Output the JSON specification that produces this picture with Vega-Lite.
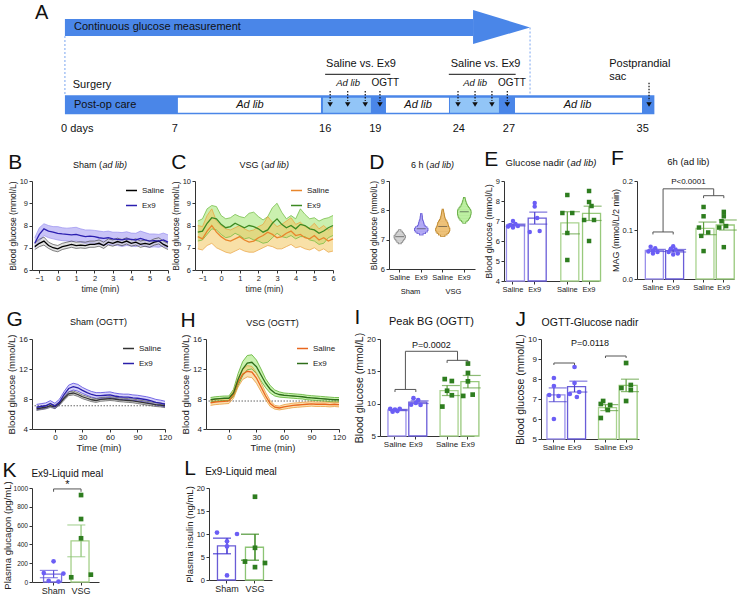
{
"$schema": "https://vega.github.io/schema/vega-lite/v6.json",
"background": "white",
"padding": {"left": 2, "top": 2, "right": 2, "bottom": 2},
"config": {
  "view": {"stroke": null},
  "font": "Liberation Sans",
  "axis": {"grid": false, "domainColor": "#333", "tickColor": "#333", "labelColor": "#222", "titleColor": "#222", "labelFont": "Liberation Sans", "titleFont": "Liberation Sans", "labelFontSize": 8, "titleFontSize": 9, "titleFontWeight": "normal", "tickSize": 3, "labelPadding": 1.5, "titlePadding": 2, "domainWidth": 1, "tickWidth": 1, "labelOverlap": false, "labelFlush": false},
  "title": {"font": "Liberation Sans", "fontWeight": "normal", "fontSize": 21, "anchor": "start", "frame": "bounds", "offset": -12, "color": "#111"},
  "legend": {"labelFont": "Liberation Sans", "labelFontSize": 8, "labelColor": "#222"},
  "text": {"font": "Liberation Sans", "color": "#111"}
},
"spacing": 12,
"resolve": {"scale": {"color": "independent", "stroke": "independent", "fill": "independent", "shape": "independent", "size": "independent", "xOffset": "independent"}, "legend": {"color": "independent", "stroke": "independent", "fill": "independent", "shape": "independent", "size": "independent"}},
"vconcat": [
{
 "width": 727, "height": 130,
 "layer": [
  {"data": {"values": [{"d1": 0.43, "d2": 24.85, "v1": 9.7, "v2": 11.4}]},
   "mark": {"type": "rect", "color": "#4a86e8"},
   "encoding": {"x": {"field": "d1", "type": "quantitative", "scale": {"domain": [-1.54, 41.96], "nice": false, "zero": false}, "axis": null}, "x2": {"field": "d2"}, "y": {"field": "v1", "type": "quantitative", "scale": {"domain": [0, 13], "nice": false, "zero": false}, "axis": null}, "y2": {"field": "v2"}}},
  {"data": {"values": [{"d": 24.85, "v1": 8.9, "v2": 12.3}, {"d": 28.26, "v1": 10.55, "v2": 10.55}]},
   "mark": {"type": "area", "color": "#4a86e8"},
   "encoding": {"x": {"field": "d", "type": "quantitative"}, "y": {"field": "v1", "type": "quantitative"}, "y2": {"field": "v2"}}},
  {"data": {"values": [{"d": 0.43, "v1": 9.7, "v2": 3.8}, {"d": 28.26, "v1": 10.55, "v2": 3.8}]},
   "mark": {"type": "rule", "color": "#7aa6f0", "strokeDash": [2, 2], "strokeWidth": 1},
   "encoding": {"x": {"field": "d", "type": "quantitative"}, "y": {"field": "v1", "type": "quantitative"}, "y2": {"field": "v2"}}},
  {"data": {"values": [{"d1": 0.43, "d2": 35.7, "v1": 1.87, "v2": 3.77}]},
   "mark": {"type": "rect", "color": "#4a86e8"},
   "encoding": {"x": {"field": "d1", "type": "quantitative"}, "x2": {"field": "d2"}, "y": {"field": "v1", "type": "quantitative"}, "y2": {"field": "v2"}}},
  {"data": {"values": [{"d1": 7.19, "d2": 15.75, "v1": 2.03, "v2": 3.53}, {"d1": 19.64, "d2": 23.41, "v1": 2.03, "v2": 3.53}, {"d1": 27.36, "d2": 34.96, "v1": 2.03, "v2": 3.53}]},
   "mark": {"type": "rect", "color": "#ffffff"},
   "encoding": {"x": {"field": "d1", "type": "quantitative"}, "x2": {"field": "d2"}, "y": {"field": "v1", "type": "quantitative"}, "y2": {"field": "v2"}}},
  {"data": {"values": [{"d1": 15.87, "d2": 18.74, "v1": 2.03, "v2": 3.53}, {"d1": 23.47, "d2": 26.4, "v1": 2.03, "v2": 3.53}]},
   "mark": {"type": "rect", "color": "#92c5f7"},
   "encoding": {"x": {"field": "d1", "type": "quantitative"}, "x2": {"field": "d2"}, "y": {"field": "v1", "type": "quantitative"}, "y2": {"field": "v2"}}},
  {"data": {"values": [{"d": 16.3, "v1": 4.2, "v2": 3.2}, {"d": 17.35, "v1": 4.2, "v2": 3.2}, {"d": 18.4, "v1": 4.2, "v2": 3.2}, {"d": 19.28, "v1": 4.2, "v2": 3.2}, {"d": 23.95, "v1": 4.2, "v2": 3.2}, {"d": 24.97, "v1": 4.2, "v2": 3.2}, {"d": 25.98, "v1": 4.2, "v2": 3.2}, {"d": 26.9, "v1": 4.2, "v2": 3.2}, {"d": 35.38, "v1": 5.03, "v2": 3.2}]},
   "mark": {"type": "rule", "color": "#111", "strokeDash": [1.5, 1.5], "strokeWidth": 1.2},
   "encoding": {"x": {"field": "d", "type": "quantitative"}, "y": {"field": "v1", "type": "quantitative"}, "y2": {"field": "v2"}}},
  {"data": {"values": [{"d": 16.3}, {"d": 17.35}, {"d": 18.4}, {"d": 19.28}, {"d": 23.95}, {"d": 24.97}, {"d": 25.98}, {"d": 26.9}, {"d": 35.38}]},
   "mark": {"type": "point", "shape": "triangle-down", "filled": true, "color": "#111", "size": 30, "opacity": 1},
   "encoding": {"x": {"field": "d", "type": "quantitative"}, "y": {"datum": 2.85}}},
  {"data": {"values": [{"d1": 16.0, "d2": 19.9, "v": 5.87}, {"d1": 23.4, "d2": 27.4, "v": 5.87}]},
   "mark": {"type": "rule", "color": "#111", "strokeWidth": 1},
   "encoding": {"x": {"field": "d1", "type": "quantitative"}, "x2": {"field": "d2"}, "y": {"field": "v", "type": "quantitative"}}},
  {"data": {"values": [{"d": -1.36, "v": 12.0, "t": "A"}]},
   "mark": {"type": "text", "align": "left", "baseline": "middle", "fontSize": 20},
   "encoding": {"x": {"field": "d", "type": "quantitative"}, "y": {"field": "v", "type": "quantitative"}, "text": {"field": "t"}}},
  {"data": {"values": [{"d": 0.97, "v": 10.6, "t": "Continuous glucose measurement"}, {"d": 0.9, "v": 4.8, "t": "Surgery"}, {"d": 0.97, "v": 2.8, "t": "Post-op care"}, {"d": 33.0, "v": 6.93, "t": "Postprandial"}, {"d": 33.0, "v": 5.6, "t": "sac"}, {"d": 0.2, "v": 0.37, "t": "0 days"}]},
   "mark": {"type": "text", "align": "left", "baseline": "middle", "fontSize": 11},
   "encoding": {"x": {"field": "d", "type": "quantitative"}, "y": {"field": "v", "type": "quantitative"}, "text": {"field": "t"}}},
  {"data": {"values": [{"d": 18.14, "v": 6.93, "t": "Saline vs. Ex9"}, {"d": 25.6, "v": 6.93, "t": "Saline vs. Ex9"}, {"d": 7, "v": 0.37, "t": "7"}, {"d": 16, "v": 0.37, "t": "16"}, {"d": 19, "v": 0.37, "t": "19"}, {"d": 24, "v": 0.37, "t": "24"}, {"d": 27, "v": 0.37, "t": "27"}, {"d": 35, "v": 0.37, "t": "35"}]},
   "mark": {"type": "text", "align": "center", "baseline": "middle", "fontSize": 11},
   "encoding": {"x": {"field": "d", "type": "quantitative"}, "y": {"field": "v", "type": "quantitative"}, "text": {"field": "t"}}},
  {"data": {"values": [{"d": 19.6, "v": 5.03, "t": "OGTT"}, {"d": 27.18, "v": 5.03, "t": "OGTT"}]},
   "mark": {"type": "text", "align": "center", "baseline": "middle", "fontSize": 10},
   "encoding": {"x": {"field": "d", "type": "quantitative"}, "y": {"field": "v", "type": "quantitative"}, "text": {"field": "t"}}},
  {"data": {"values": [{"d": 17.37, "v": 5.03, "t": "Ad lib"}, {"d": 24.97, "v": 5.03, "t": "Ad lib"}]},
   "mark": {"type": "text", "align": "center", "baseline": "middle", "fontSize": 9.5, "fontStyle": "italic"},
   "encoding": {"x": {"field": "d", "type": "quantitative"}, "y": {"field": "v", "type": "quantitative"}, "text": {"field": "t"}}},
  {"data": {"values": [{"d": 11.5, "v": 2.8, "t": "Ad lib"}, {"d": 21.56, "v": 2.8, "t": "Ad lib"}, {"d": 31.1, "v": 2.8, "t": "Ad lib"}]},
   "mark": {"type": "text", "align": "center", "baseline": "middle", "fontSize": 11, "fontStyle": "italic"},
   "encoding": {"x": {"field": "d", "type": "quantitative"}, "y": {"field": "v", "type": "quantitative"}, "text": {"field": "t"}}}
 ]
},
{
 "spacing": 10,
 "resolve": {"scale": {"color": "independent", "stroke": "independent", "fill": "independent", "shape": "independent", "size": "independent", "xOffset": "independent"}, "legend": {"color": "independent", "stroke": "independent", "fill": "independent", "shape": "independent", "size": "independent"}},
 "vconcat": [
{
 "spacing": 33,
 "resolve": {"scale": {"color": "independent", "stroke": "independent", "fill": "independent", "shape": "independent", "size": "independent", "xOffset": "independent"}, "legend": {"color": "independent", "stroke": "independent", "fill": "independent", "shape": "independent", "size": "independent"}},
 "hconcat": [
 {
  "spacing": 0,
  "resolve": {"scale": {"color": "independent", "stroke": "independent", "fill": "independent", "shape": "independent", "size": "independent", "xOffset": "independent"}, "legend": {"color": "independent", "stroke": "independent", "fill": "independent", "shape": "independent", "size": "independent"}},
  "hconcat": [
  {
   "width": 136, "height": 89,
   "title": {"text": "B"},
   "data": {"values": [
    {"t": -1.25, "sm": 7.05, "sl": 6.92, "sh": 7.2, "em": 7.2, "el": 7.0, "eh": 7.45},
    {"t": -1, "sm": 7.2, "sl": 7.05, "sh": 7.38, "em": 7.6, "el": 7.3, "eh": 7.9},
    {"t": -0.75, "sm": 7.3, "sl": 7.12, "sh": 7.48, "em": 7.85, "el": 7.55, "eh": 8.08},
    {"t": -0.5, "sm": 7.1, "sl": 6.97, "sh": 7.25, "em": 7.75, "el": 7.45, "eh": 8.0},
    {"t": -0.25, "sm": 7.0, "sl": 6.87, "sh": 7.15, "em": 7.7, "el": 7.4, "eh": 7.95},
    {"t": 0, "sm": 6.95, "sl": 6.82, "sh": 7.1, "em": 7.65, "el": 7.35, "eh": 7.95},
    {"t": 0.25, "sm": 7.05, "sl": 6.92, "sh": 7.2, "em": 7.62, "el": 7.32, "eh": 7.9},
    {"t": 0.5, "sm": 7.1, "sl": 6.97, "sh": 7.25, "em": 7.6, "el": 7.3, "eh": 7.88},
    {"t": 0.75, "sm": 7.15, "sl": 7.02, "sh": 7.3, "em": 7.58, "el": 7.28, "eh": 7.9},
    {"t": 1, "sm": 7.1, "sl": 6.97, "sh": 7.25, "em": 7.6, "el": 7.3, "eh": 7.92},
    {"t": 1.25, "sm": 7.12, "sl": 6.99, "sh": 7.27, "em": 7.55, "el": 7.25, "eh": 7.85},
    {"t": 1.5, "sm": 7.1, "sl": 6.97, "sh": 7.25, "em": 7.5, "el": 7.2, "eh": 7.8},
    {"t": 1.75, "sm": 7.15, "sl": 7.02, "sh": 7.3, "em": 7.52, "el": 7.22, "eh": 7.8},
    {"t": 2, "sm": 7.15, "sl": 7.02, "sh": 7.3, "em": 7.5, "el": 7.2, "eh": 7.78},
    {"t": 2.25, "sm": 7.2, "sl": 7.07, "sh": 7.35, "em": 7.45, "el": 7.15, "eh": 7.75},
    {"t": 2.5, "sm": 7.1, "sl": 6.97, "sh": 7.25, "em": 7.42, "el": 7.12, "eh": 7.72},
    {"t": 2.75, "sm": 7.25, "sl": 7.12, "sh": 7.4, "em": 7.45, "el": 7.15, "eh": 7.75},
    {"t": 3, "sm": 7.2, "sl": 7.07, "sh": 7.35, "em": 7.4, "el": 7.12, "eh": 7.7},
    {"t": 3.25, "sm": 7.28, "sl": 7.15, "sh": 7.43, "em": 7.38, "el": 7.1, "eh": 7.7},
    {"t": 3.5, "sm": 7.22, "sl": 7.09, "sh": 7.37, "em": 7.35, "el": 7.06, "eh": 7.68},
    {"t": 3.75, "sm": 7.3, "sl": 7.17, "sh": 7.45, "em": 7.4, "el": 7.1, "eh": 7.72},
    {"t": 4, "sm": 7.2, "sl": 7.07, "sh": 7.35, "em": 7.38, "el": 7.08, "eh": 7.66},
    {"t": 4.25, "sm": 7.25, "sl": 7.12, "sh": 7.4, "em": 7.35, "el": 7.05, "eh": 7.65},
    {"t": 4.5, "sm": 7.15, "sl": 7.02, "sh": 7.3, "em": 7.42, "el": 7.12, "eh": 7.75},
    {"t": 4.75, "sm": 7.2, "sl": 7.07, "sh": 7.35, "em": 7.35, "el": 7.05, "eh": 7.68},
    {"t": 5, "sm": 7.15, "sl": 7.02, "sh": 7.3, "em": 7.3, "el": 7.02, "eh": 7.62},
    {"t": 5.25, "sm": 7.25, "sl": 7.12, "sh": 7.4, "em": 7.32, "el": 7.04, "eh": 7.62},
    {"t": 5.5, "sm": 7.3, "sl": 7.17, "sh": 7.45, "em": 7.3, "el": 7.02, "eh": 7.6},
    {"t": 5.75, "sm": 7.15, "sl": 7.02, "sh": 7.3, "em": 7.35, "el": 7.08, "eh": 7.66},
    {"t": 6, "sm": 7.05, "sl": 6.92, "sh": 7.2, "em": 7.25, "el": 6.98, "eh": 7.58}
   ]},
   "layer": [
    {"mark": {"type": "area", "opacity": 0.6}, "encoding": {"x": {"field": "t", "type": "quantitative", "scale": {"domain": [-1.4, 6], "nice": false, "zero": false}, "axis": {"values": [-1, 0, 1, 2, 3, 4, 5, 6], "tickCount": 20, "format": "d", "title": "time (min)", "labelFontSize": 7.5, "titleFontSize": 8.5}}, "y": {"field": "el", "type": "quantitative", "scale": {"domain": [6, 10], "zero": false, "nice": false}, "axis": {"values": [6, 7, 8, 9, 10], "tickCount": 20, "format": "d", "title": "Blood glucose (mmol/L)", "labelFontSize": 7.5, "titleFontSize": 8.5}}, "y2": {"field": "eh"}, "fill": {"datum": "Ex9", "scale": {"domain": ["Saline", "Ex9"], "range": ["#d0d0d0", "#a59cf2"]}, "legend": null}}},
    {"mark": {"type": "area", "opacity": 0.6}, "encoding": {"x": {"field": "t", "type": "quantitative"}, "y": {"field": "sl", "type": "quantitative"}, "y2": {"field": "sh"}, "fill": {"datum": "Saline"}}},
    {"mark": {"type": "line", "strokeWidth": 0.6}, "encoding": {"x": {"field": "t", "type": "quantitative"}, "y": {"field": "el", "type": "quantitative"}, "color": {"datum": "Ex9", "scale": {"domain": ["Saline", "Ex9"], "range": ["#333333", "#8e85ee"]}, "legend": null}}},
    {"mark": {"type": "line", "strokeWidth": 0.6}, "encoding": {"x": {"field": "t", "type": "quantitative"}, "y": {"field": "eh", "type": "quantitative"}, "color": {"datum": "Ex9"}}},
    {"mark": {"type": "line", "strokeWidth": 0.6}, "encoding": {"x": {"field": "t", "type": "quantitative"}, "y": {"field": "sl", "type": "quantitative"}, "color": {"datum": "Saline"}}},
    {"mark": {"type": "line", "strokeWidth": 0.6}, "encoding": {"x": {"field": "t", "type": "quantitative"}, "y": {"field": "sh", "type": "quantitative"}, "color": {"datum": "Saline"}}},
    {"transform": [{"fold": ["sm", "em"], "as": ["g", "m"]}], "mark": {"type": "line", "strokeWidth": 1.3}, "encoding": {"x": {"field": "t", "type": "quantitative"}, "y": {"field": "m", "type": "quantitative"}, "stroke": {"field": "g", "type": "nominal", "scale": {"domain": ["sm", "em"], "range": ["#000000", "#2b1fb0"]}, "legend": {"title": null, "orient": "top-right", "symbolType": "stroke", "symbolStrokeWidth": 1.5, "symbolSize": 120, "labelFontSize": 8, "rowPadding": 4, "offset": 3, "padding": 0, "labelExpr": "datum.value == 'sm' ? 'Saline' : 'Ex9'"}}}},
    {"data": {"values": [{"n": "Sham ("}]}, "mark": {"type": "text", "align": "right", "baseline": "middle", "fontSize": 9, "dx": 2}, "encoding": {"x": {"datum": 2.3}, "y": {"datum": 10.72}, "text": {"field": "n"}}},
    {"data": {"values": [{"n": "ad lib)"}]}, "mark": {"type": "text", "align": "left", "baseline": "middle", "fontSize": 9, "fontStyle": "italic", "dx": 2.5}, "encoding": {"x": {"datum": 2.3}, "y": {"datum": 10.72}, "text": {"field": "n"}}}
   ]
  },
  {
   "width": 138, "height": 89,
   "title": {"text": "C"},
   "data": {"values": [
    {"t": -1.25, "sm": 7.5, "sl": 6.95, "sh": 8.0, "em": 7.7, "el": 7.3, "eh": 8.2},
    {"t": -1, "sm": 7.4, "sl": 6.9, "sh": 7.95, "em": 7.75, "el": 7.35, "eh": 8.3},
    {"t": -0.75, "sm": 7.75, "sl": 7.1, "sh": 8.45, "em": 8.1, "el": 7.6, "eh": 8.75},
    {"t": -0.5, "sm": 8.0, "sl": 7.2, "sh": 8.75, "em": 8.35, "el": 7.85, "eh": 8.9},
    {"t": -0.25, "sm": 7.7, "sl": 7.0, "sh": 8.2, "em": 8.3, "el": 7.8, "eh": 8.85},
    {"t": 0, "sm": 7.5, "sl": 6.9, "sh": 8.0, "em": 8.05, "el": 7.6, "eh": 8.45},
    {"t": 0.25, "sm": 7.35, "sl": 6.8, "sh": 7.85, "em": 7.9, "el": 7.45, "eh": 8.3},
    {"t": 0.5, "sm": 7.3, "sl": 6.75, "sh": 7.8, "em": 7.95, "el": 7.5, "eh": 8.35},
    {"t": 0.75, "sm": 7.4, "sl": 6.85, "sh": 7.9, "em": 8.1, "el": 7.65, "eh": 8.5},
    {"t": 1, "sm": 7.5, "sl": 6.95, "sh": 8.0, "em": 8.0, "el": 7.55, "eh": 8.4},
    {"t": 1.25, "sm": 7.35, "sl": 6.85, "sh": 7.85, "em": 7.9, "el": 7.4, "eh": 8.35},
    {"t": 1.5, "sm": 7.25, "sl": 6.8, "sh": 7.75, "em": 8.0, "el": 7.45, "eh": 8.55},
    {"t": 1.75, "sm": 7.3, "sl": 6.8, "sh": 7.8, "em": 7.95, "el": 7.35, "eh": 8.6},
    {"t": 2, "sm": 7.45, "sl": 6.9, "sh": 7.95, "em": 7.85, "el": 7.3, "eh": 8.4},
    {"t": 2.25, "sm": 7.55, "sl": 7.0, "sh": 8.05, "em": 7.7, "el": 7.2, "eh": 8.25},
    {"t": 2.5, "sm": 7.7, "sl": 7.1, "sh": 8.4, "em": 7.8, "el": 7.25, "eh": 8.4},
    {"t": 2.75, "sm": 7.6, "sl": 7.05, "sh": 8.15, "em": 8.1, "el": 7.45, "eh": 8.8},
    {"t": 3, "sm": 7.45, "sl": 6.95, "sh": 7.95, "em": 8.3, "el": 7.65, "eh": 9.0},
    {"t": 3.25, "sm": 7.5, "sl": 6.95, "sh": 8.05, "em": 8.05, "el": 7.5, "eh": 8.6},
    {"t": 3.5, "sm": 7.65, "sl": 7.05, "sh": 8.2, "em": 7.9, "el": 7.45, "eh": 8.3},
    {"t": 3.75, "sm": 7.75, "sl": 7.15, "sh": 8.35, "em": 8.0, "el": 7.55, "eh": 8.45},
    {"t": 4, "sm": 7.55, "sl": 7.0, "sh": 8.05, "em": 7.85, "el": 7.4, "eh": 8.3},
    {"t": 4.25, "sm": 7.6, "sl": 7.05, "sh": 8.15, "em": 8.05, "el": 7.5, "eh": 8.75},
    {"t": 4.5, "sm": 7.45, "sl": 6.95, "sh": 7.95, "em": 8.0, "el": 7.5, "eh": 8.5},
    {"t": 4.75, "sm": 7.4, "sl": 6.9, "sh": 7.9, "em": 7.85, "el": 7.35, "eh": 8.3},
    {"t": 5, "sm": 7.55, "sl": 7.0, "sh": 8.1, "em": 7.8, "el": 7.3, "eh": 8.35},
    {"t": 5.25, "sm": 7.35, "sl": 6.85, "sh": 7.85, "em": 7.65, "el": 7.15, "eh": 8.2},
    {"t": 5.5, "sm": 7.45, "sl": 6.95, "sh": 8.0, "em": 7.75, "el": 7.2, "eh": 8.3},
    {"t": 5.75, "sm": 7.3, "sl": 6.8, "sh": 7.8, "em": 7.9, "el": 7.45, "eh": 8.35},
    {"t": 6, "sm": 7.4, "sl": 6.85, "sh": 7.95, "em": 8.0, "el": 7.55, "eh": 8.45}
   ]},
   "layer": [
    {"mark": {"type": "area", "opacity": 0.55}, "encoding": {"x": {"field": "t", "type": "quantitative", "scale": {"domain": [-1.4, 6], "nice": false, "zero": false}, "axis": {"values": [-1, 0, 1, 2, 3, 4, 5, 6], "tickCount": 20, "format": "d", "title": "time (min)", "labelFontSize": 7.5, "titleFontSize": 8.5}}, "y": {"field": "el", "type": "quantitative", "scale": {"domain": [6, 10], "zero": false, "nice": false}, "axis": {"values": [6, 7, 8, 9, 10], "tickCount": 20, "format": "d", "title": "Blood glucose (mmol/L)", "labelFontSize": 7.5, "titleFontSize": 8.5}}, "y2": {"field": "eh"}, "fill": {"datum": "Ex9", "scale": {"domain": ["Saline", "Ex9"], "range": ["#f2c65e", "#9fe46e"]}, "legend": null}}},
    {"mark": {"type": "area", "opacity": 0.55}, "encoding": {"x": {"field": "t", "type": "quantitative"}, "y": {"field": "sl", "type": "quantitative"}, "y2": {"field": "sh"}, "fill": {"datum": "Saline"}}},
    {"mark": {"type": "line", "strokeWidth": 0.7}, "encoding": {"x": {"field": "t", "type": "quantitative"}, "y": {"field": "el", "type": "quantitative"}, "color": {"datum": "Ex9", "scale": {"domain": ["Saline", "Ex9"], "range": ["#e9a03c", "#68b83a"]}, "legend": null}}},
    {"mark": {"type": "line", "strokeWidth": 0.7}, "encoding": {"x": {"field": "t", "type": "quantitative"}, "y": {"field": "eh", "type": "quantitative"}, "color": {"datum": "Ex9"}}},
    {"mark": {"type": "line", "strokeWidth": 0.7}, "encoding": {"x": {"field": "t", "type": "quantitative"}, "y": {"field": "sl", "type": "quantitative"}, "color": {"datum": "Saline"}}},
    {"mark": {"type": "line", "strokeWidth": 0.7}, "encoding": {"x": {"field": "t", "type": "quantitative"}, "y": {"field": "sh", "type": "quantitative"}, "color": {"datum": "Saline"}}},
    {"transform": [{"fold": ["sm", "em"], "as": ["g", "m"]}], "mark": {"type": "line", "strokeWidth": 1.3}, "encoding": {"x": {"field": "t", "type": "quantitative"}, "y": {"field": "m", "type": "quantitative"}, "stroke": {"field": "g", "type": "nominal", "scale": {"domain": ["sm", "em"], "range": ["#e8862c", "#3c8a22"]}, "legend": {"title": null, "orient": "top-right", "symbolType": "stroke", "symbolStrokeWidth": 1.5, "symbolSize": 120, "labelFontSize": 8, "rowPadding": 4, "offset": 3, "padding": 0, "labelExpr": "datum.value == 'sm' ? 'Saline' : 'Ex9'"}}}},
    {"data": {"values": [{"n": "VSG ("}]}, "mark": {"type": "text", "align": "right", "baseline": "middle", "fontSize": 9, "dx": 0}, "encoding": {"x": {"datum": 2.3}, "y": {"datum": 10.72}, "text": {"field": "n"}}},
    {"data": {"values": [{"n": "ad lib)"}]}, "mark": {"type": "text", "align": "left", "baseline": "middle", "fontSize": 9, "fontStyle": "italic", "dx": 0.5}, "encoding": {"x": {"datum": 2.3}, "y": {"datum": 10.72}, "text": {"field": "n"}}}
   ]
  }
  ]
 },
 {
  "spacing": 9,
  "resolve": {"scale": {"color": "independent", "stroke": "independent", "fill": "independent", "shape": "independent", "size": "independent", "xOffset": "independent"}, "legend": {"color": "independent", "stroke": "independent", "fill": "independent", "shape": "independent", "size": "independent"}},
  "hconcat": [
  {
   "width": 86, "height": 88,
   "title": {"text": "D"},
   "data": {"values": [
    {"g": "SS", "y": 6.9, "w": 0.15}, {"g": "SS", "y": 6.95, "w": 0.35}, {"g": "SS", "y": 7.0, "w": 0.5}, {"g": "SS", "y": 7.05, "w": 0.65}, {"g": "SS", "y": 7.1, "w": 0.75}, {"g": "SS", "y": 7.15, "w": 0.6}, {"g": "SS", "y": 7.2, "w": 0.45}, {"g": "SS", "y": 7.25, "w": 0.3}, {"g": "SS", "y": 7.3, "w": 0.1},
    {"g": "SE", "y": 7.2, "w": 0.2}, {"g": "SE", "y": 7.25, "w": 0.55}, {"g": "SE", "y": 7.3, "w": 0.8}, {"g": "SE", "y": 7.35, "w": 0.9}, {"g": "SE", "y": 7.4, "w": 0.75}, {"g": "SE", "y": 7.45, "w": 0.5}, {"g": "SE", "y": 7.5, "w": 0.35}, {"g": "SE", "y": 7.55, "w": 0.3}, {"g": "SE", "y": 7.6, "w": 0.25}, {"g": "SE", "y": 7.65, "w": 0.15}, {"g": "SE", "y": 7.7, "w": 0.1}, {"g": "SE", "y": 7.75, "w": 0.08}, {"g": "SE", "y": 7.8, "w": 0.06}, {"g": "SE", "y": 7.85, "w": 0.04},
    {"g": "VS", "y": 7.15, "w": 0.25}, {"g": "VS", "y": 7.2, "w": 0.55}, {"g": "VS", "y": 7.25, "w": 0.75}, {"g": "VS", "y": 7.3, "w": 0.9}, {"g": "VS", "y": 7.35, "w": 0.95}, {"g": "VS", "y": 7.4, "w": 0.85}, {"g": "VS", "y": 7.45, "w": 0.75}, {"g": "VS", "y": 7.5, "w": 0.7}, {"g": "VS", "y": 7.55, "w": 0.65}, {"g": "VS", "y": 7.6, "w": 0.55}, {"g": "VS", "y": 7.65, "w": 0.4}, {"g": "VS", "y": 7.7, "w": 0.3}, {"g": "VS", "y": 7.75, "w": 0.22}, {"g": "VS", "y": 7.8, "w": 0.18}, {"g": "VS", "y": 7.85, "w": 0.14}, {"g": "VS", "y": 7.9, "w": 0.1}, {"g": "VS", "y": 7.95, "w": 0.06}, {"g": "VS", "y": 8.0, "w": 0.03},
    {"g": "VE", "y": 7.6, "w": 0.15}, {"g": "VE", "y": 7.65, "w": 0.35}, {"g": "VE", "y": 7.7, "w": 0.55}, {"g": "VE", "y": 7.75, "w": 0.7}, {"g": "VE", "y": 7.8, "w": 0.8}, {"g": "VE", "y": 7.85, "w": 0.85}, {"g": "VE", "y": 7.9, "w": 0.9}, {"g": "VE", "y": 7.95, "w": 0.9}, {"g": "VE", "y": 8.0, "w": 0.85}, {"g": "VE", "y": 8.05, "w": 0.7}, {"g": "VE", "y": 8.1, "w": 0.55}, {"g": "VE", "y": 8.15, "w": 0.4}, {"g": "VE", "y": 8.2, "w": 0.3}, {"g": "VE", "y": 8.25, "w": 0.22}, {"g": "VE", "y": 8.3, "w": 0.15}, {"g": "VE", "y": 8.35, "w": 0.1}, {"g": "VE", "y": 8.4, "w": 0.05}
   ]},
   "resolve": {"scale": {"size": "independent", "color": "independent"}},
   "layer": [
    {"mark": {"type": "tick", "thickness": 3.2, "opacity": 1},
     "encoding": {"x": {"field": "g", "type": "nominal", "scale": {"domain": ["SS", "SE", "VS", "VE"], "paddingInner": 0, "paddingOuter": 0}, "axis": {"labelExpr": "datum.value == 'SS' || datum.value == 'VS' ? 'Saline' : 'Ex9'", "title": null, "labelAngle": 0, "labelFontSize": 7.5}}, "y": {"field": "y", "type": "quantitative", "scale": {"domain": [6, 9], "zero": false, "nice": false}, "axis": {"values": [6, 7, 8, 9], "tickCount": 20, "format": "d", "title": "Blood glucose (mmol/L)", "labelFontSize": 7.5, "titleFontSize": 8.5}}, "size": {"field": "w", "type": "quantitative", "scale": {"domain": [0, 1], "range": [1.8, 15.8]}, "legend": null}, "color": {"field": "g", "type": "nominal", "scale": {"domain": ["SS", "SE", "VS", "VE"], "range": ["#8a8a8a", "#6a5ed8", "#c08a30", "#6aae48"]}, "legend": null}}},
    {"mark": {"type": "tick", "thickness": 1.9, "opacity": 1},
     "encoding": {"x": {"field": "g", "type": "nominal"}, "y": {"field": "y", "type": "quantitative"}, "size": {"field": "w", "type": "quantitative", "scale": {"domain": [0, 1], "range": [0, 14]}, "legend": null}, "color": {"field": "g", "type": "nominal", "scale": {"domain": ["SS", "SE", "VS", "VE"], "range": ["#d4d4d4", "#b3aaf5", "#eec27a", "#bdf0a2"]}, "legend": null}}},
    {"data": {"values": [{"g": "SS", "y": 7.1}, {"g": "SE", "y": 7.37}, {"g": "VS", "y": 7.45}, {"g": "VE", "y": 7.95}]},
     "mark": {"type": "tick", "thickness": 0.7, "size": 9, "color": "#333", "opacity": 0.8},
     "encoding": {"x": {"field": "g", "type": "nominal"}, "y": {"field": "y", "type": "quantitative"}}},
    {"data": {"values": [{"g": "SS", "n": "Sham"}, {"g": "VS", "n": "VSG"}]},
     "mark": {"type": "text", "align": "center", "baseline": "middle", "fontSize": 7.5},
     "encoding": {"x": {"field": "g", "type": "nominal", "bandPosition": 1}, "y": {"datum": 5.2}, "text": {"field": "n"}}},
    {"data": {"values": [{"n": "6 h ("}]}, "mark": {"type": "text", "align": "right", "baseline": "middle", "fontSize": 9, "dx": -3}, "encoding": {"x": {"datum": "SE", "type": "nominal", "bandPosition": 1}, "y": {"datum": 9.54}, "text": {"field": "n"}}},
    {"data": {"values": [{"n": "ad lib)"}]}, "mark": {"type": "text", "align": "left", "baseline": "middle", "fontSize": 9, "fontStyle": "italic", "dx": -2.5}, "encoding": {"x": {"datum": "SE", "type": "nominal", "bandPosition": 1}, "y": {"datum": 9.54}, "text": {"field": "n"}}}
   ]
  },
  {
   "width": 95, "height": 100,
   "title": {"text": "E"},
   "data": {"values": [
    {"s": "S1", "grp": "Sham", "k": 3, "v": 7.0}, {"s": "S1", "grp": "Sham", "k": 4, "v": 6.85}, {"s": "S1", "grp": "Sham", "k": 2, "v": 6.8}, {"s": "S1", "grp": "Sham", "k": 5, "v": 6.75}, {"s": "S1", "grp": "Sham", "k": 1, "v": 6.72}, {"s": "S1", "grp": "Sham", "k": 3, "v": 6.68},
    {"s": "S2", "grp": "Sham", "k": 3, "v": 7.9}, {"s": "S2", "grp": "Sham", "k": 3, "v": 7.72}, {"s": "S2", "grp": "Sham", "k": 4, "v": 7.15}, {"s": "S2", "grp": "Sham", "k": 1, "v": 6.45}, {"s": "S2", "grp": "Sham", "k": 5, "v": 6.5},
    {"s": "V1", "grp": "VSG", "k": 3, "v": 8.3}, {"s": "V1", "grp": "VSG", "k": 1, "v": 7.4}, {"s": "V1", "grp": "VSG", "k": 5, "v": 7.4}, {"s": "V1", "grp": "VSG", "k": 3, "v": 6.4}, {"s": "V1", "grp": "VSG", "k": 3, "v": 5.05},
    {"s": "V2", "grp": "VSG", "k": 3, "v": 8.5}, {"s": "V2", "grp": "VSG", "k": 3, "v": 7.95}, {"s": "V2", "grp": "VSG", "k": 4, "v": 7.75}, {"s": "V2", "grp": "VSG", "k": 1, "v": 7.05}, {"s": "V2", "grp": "VSG", "k": 5, "v": 7.05}, {"s": "V2", "grp": "VSG", "k": 3, "v": 6.0}
   ]},
   "layer": [
    {"mark": {"type": "bar", "fill": "white", "strokeWidth": 1.3, "width": {"band": 1.2}},
     "encoding": {"x": {"field": "s", "type": "nominal", "scale": {"domain": ["S1", "Sm", "S2", "g1", "g2", "V1", "Vm", "V2"], "paddingInner": 0, "paddingOuter": 0.37, "align": 0.44}, "axis": {"values": ["S1", "S2", "V1", "V2"], "tickCount": 20, "labelExpr": "datum.value == 'S1' || datum.value == 'V1' ? 'Saline' : 'Ex9'", "title": null, "labelAngle": 0, "labelFontSize": 7.5}}, "y": {"aggregate": "mean", "field": "v", "type": "quantitative", "title": "Blood glucose (mmol/L)", "scale": {"domain": [4, 9], "zero": false, "nice": false}, "axis": {"values": [4, 5, 6, 7, 8, 9], "tickCount": 20, "format": "d", "labelFontSize": 7.5, "titleFontSize": 9}}, "y2": {"datum": 4}, "stroke": {"field": "s", "type": "nominal", "scale": {"domain": ["S1", "S2", "V1", "V2"], "range": ["#9a90ea", "#6a5dd8", "#a9d38f", "#98c97c"]}, "legend": null}}},
    {"mark": {"type": "errorbar", "extent": "stderr", "ticks": true, "thickness": 1.2},
     "encoding": {"x": {"field": "s", "type": "nominal"}, "y": {"field": "v", "type": "quantitative", "title": "Blood glucose (mmol/L)"}, "color": {"field": "grp", "type": "nominal", "scale": {"domain": ["Sham", "VSG"], "range": ["#4b3fd0", "#5c9e3c"]}, "legend": null}}},
    {"mark": {"type": "point", "filled": true, "size": 20, "opacity": 1},
     "encoding": {"x": {"field": "s", "type": "nominal"}, "xOffset": {"field": "k", "type": "nominal", "scale": {"type": "point", "domain": [1, 2, 3, 4, 5], "padding": 0.2}}, "y": {"field": "v", "type": "quantitative", "title": "Blood glucose (mmol/L)"}, "shape": {"field": "grp", "type": "nominal", "scale": {"domain": ["Sham", "VSG"], "range": ["circle", "square"]}, "legend": null}, "fill": {"field": "grp", "type": "nominal", "scale": {"domain": ["Sham", "VSG"], "range": ["#6b5ef5", "#2e7d1f"]}, "legend": null}}},
    {"data": {"values": [{"n": "Glucose nadir ("}]}, "mark": {"type": "text", "align": "right", "baseline": "middle", "fontSize": 9.5, "dx": 19}, "encoding": {"x": {"datum": "g1", "type": "nominal", "bandPosition": 1}, "y": {"datum": 9.9}, "text": {"field": "n"}}},
    {"data": {"values": [{"n": "ad lib)"}]}, "mark": {"type": "text", "align": "left", "baseline": "middle", "fontSize": 9.5, "fontStyle": "italic", "dx": 19.5}, "encoding": {"x": {"datum": "g1", "type": "nominal", "bandPosition": 1}, "y": {"datum": 9.9}, "text": {"field": "n"}}}
   ]
  },
  {
   "width": 97, "height": 98,
   "title": {"text": "F"},
   "data": {"values": [
    {"s": "S1", "grp": "Sham", "k": 2, "v": 0.066}, {"s": "S1", "grp": "Sham", "k": 4, "v": 0.063}, {"s": "S1", "grp": "Sham", "k": 3, "v": 0.058}, {"s": "S1", "grp": "Sham", "k": 1, "v": 0.056}, {"s": "S1", "grp": "Sham", "k": 5, "v": 0.055}, {"s": "S1", "grp": "Sham", "k": 3, "v": 0.052},
    {"s": "S2", "grp": "Sham", "k": 3, "v": 0.067}, {"s": "S2", "grp": "Sham", "k": 2, "v": 0.062}, {"s": "S2", "grp": "Sham", "k": 4, "v": 0.06}, {"s": "S2", "grp": "Sham", "k": 1, "v": 0.055}, {"s": "S2", "grp": "Sham", "k": 5, "v": 0.052}, {"s": "S2", "grp": "Sham", "k": 3, "v": 0.05},
    {"s": "V1", "grp": "VSG", "k": 3, "v": 0.147}, {"s": "V1", "grp": "VSG", "k": 3, "v": 0.128}, {"s": "V1", "grp": "VSG", "k": 1, "v": 0.105}, {"s": "V1", "grp": "VSG", "k": 5, "v": 0.095}, {"s": "V1", "grp": "VSG", "k": 2, "v": 0.088}, {"s": "V1", "grp": "VSG", "k": 3, "v": 0.057},
    {"s": "V2", "grp": "VSG", "k": 3, "v": 0.137}, {"s": "V2", "grp": "VSG", "k": 3, "v": 0.128}, {"s": "V2", "grp": "VSG", "k": 2, "v": 0.118}, {"s": "V2", "grp": "VSG", "k": 4, "v": 0.108}, {"s": "V2", "grp": "VSG", "k": 1, "v": 0.105}, {"s": "V2", "grp": "VSG", "k": 3, "v": 0.065}
   ]},
   "layer": [
    {"mark": {"type": "bar", "fill": "white", "strokeWidth": 1.3, "width": {"band": 1.5}},
     "encoding": {"x": {"field": "s", "type": "nominal", "scale": {"domain": ["S1", "Sm", "S2", "g1", "g2", "V1", "Vm", "V2"], "paddingInner": 0, "paddingOuter": 0.79, "align": 0.68}, "axis": {"values": ["S1", "S2", "V1", "V2"], "tickCount": 20, "labelExpr": "datum.value == 'S1' || datum.value == 'V1' ? 'Saline' : 'Ex9'", "title": null, "labelAngle": 0, "labelFontSize": 7.5}}, "y": {"aggregate": "mean", "field": "v", "type": "quantitative", "title": "MAG (mmol/L/2 min)", "scale": {"domain": [0, 0.2], "nice": false}, "axis": {"values": [0, 0.1, 0.2], "tickCount": 20, "format": ".1f", "labelFontSize": 7.5, "titleFontSize": 9}}, "stroke": {"field": "s", "type": "nominal", "scale": {"domain": ["S1", "S2", "V1", "V2"], "range": ["#9a90ea", "#6a5dd8", "#a9d38f", "#98c97c"]}, "legend": null}}},
    {"mark": {"type": "errorbar", "extent": "stderr", "ticks": true, "thickness": 1.2},
     "encoding": {"x": {"field": "s", "type": "nominal"}, "y": {"field": "v", "type": "quantitative", "title": "MAG (mmol/L/2 min)"}, "color": {"field": "grp", "type": "nominal", "scale": {"domain": ["Sham", "VSG"], "range": ["#4b3fd0", "#5c9e3c"]}, "legend": null}}},
    {"mark": {"type": "point", "filled": true, "size": 20, "opacity": 1},
     "encoding": {"x": {"field": "s", "type": "nominal"}, "xOffset": {"field": "k", "type": "nominal", "scale": {"type": "point", "domain": [1, 2, 3, 4, 5], "padding": 0.2}}, "y": {"field": "v", "type": "quantitative", "title": "MAG (mmol/L/2 min)"}, "shape": {"field": "grp", "type": "nominal", "scale": {"domain": ["Sham", "VSG"], "range": ["circle", "square"]}, "legend": null}, "fill": {"field": "grp", "type": "nominal", "scale": {"domain": ["Sham", "VSG"], "range": ["#6b5ef5", "#2e7d1f"]}, "legend": null}}},
    {"data": {"values": [
      {"b": 1, "o": 1, "s": "S1", "y": 0.091}, {"b": 1, "o": 2, "s": "S1", "y": 0.096}, {"b": 1, "o": 3, "s": "S2", "y": 0.096}, {"b": 1, "o": 4, "s": "S2", "y": 0.091},
      {"b": 2, "o": 1, "s": "V1", "y": 0.165}, {"b": 2, "o": 2, "s": "V1", "y": 0.17}, {"b": 2, "o": 3, "s": "V2", "y": 0.17}, {"b": 2, "o": 4, "s": "V2", "y": 0.165},
      {"b": 3, "o": 1, "s": "Sm", "y": 0.096}, {"b": 3, "o": 2, "s": "Sm", "y": 0.184}, {"b": 3, "o": 3, "s": "Vm", "y": 0.184}, {"b": 3, "o": 4, "s": "Vm", "y": 0.17}]},
     "mark": {"type": "line", "color": "#555", "strokeWidth": 1},
     "encoding": {"x": {"field": "s", "type": "nominal", "bandPosition": 0.5}, "y": {"field": "y", "type": "quantitative", "title": "MAG (mmol/L/2 min)"}, "detail": {"field": "b"}, "order": {"field": "o", "type": "quantitative"}}},
    {"data": {"values": [{"n": "P<0.0001"}]}, "mark": {"type": "text", "align": "center", "baseline": "middle", "fontSize": 8}, "encoding": {"x": {"datum": "g1", "type": "nominal", "bandPosition": 1}, "y": {"datum": 0.197}, "text": {"field": "n"}}},
    {"data": {"values": [{"n": "6h (ad lib)"}]}, "mark": {"type": "text", "align": "center", "baseline": "middle", "fontSize": 9.5}, "encoding": {"x": {"datum": "g1", "type": "nominal", "bandPosition": 1}, "y": {"datum": 0.239}, "text": {"field": "n"}}}
   ]
  }
  ]
 }
 ]
},
{
 "spacing": 5,
 "resolve": {"scale": {"color": "independent", "stroke": "independent", "fill": "independent", "shape": "independent", "size": "independent", "xOffset": "independent"}, "legend": {"color": "independent", "stroke": "independent", "fill": "independent", "shape": "independent", "size": "independent"}},
 "vconcat": [
{
 "spacing": 34,
 "resolve": {"scale": {"color": "independent", "stroke": "independent", "fill": "independent", "shape": "independent", "size": "independent", "xOffset": "independent"}, "legend": {"color": "independent", "stroke": "independent", "fill": "independent", "shape": "independent", "size": "independent"}},
 "hconcat": [
 {
  "spacing": 8,
  "resolve": {"scale": {"color": "independent", "stroke": "independent", "fill": "independent", "shape": "independent", "size": "independent", "xOffset": "independent"}, "legend": {"color": "independent", "stroke": "independent", "fill": "independent", "shape": "independent", "size": "independent"}},
  "hconcat": [
  {
   "width": 133, "height": 90,
   "title": {"text": "G"},
   "data": {"values": [
    {"t": -20, "sm": 6.7, "sl": 6.48, "sh": 6.92, "em": 6.9, "el": 6.55, "eh": 7.28},
    {"t": -15, "sm": 6.8, "sl": 6.58, "sh": 7.02, "em": 7.0, "el": 6.65, "eh": 7.38},
    {"t": -10, "sm": 6.9, "sl": 6.68, "sh": 7.12, "em": 7.1, "el": 6.75, "eh": 7.48},
    {"t": -5, "sm": 7.1, "sl": 6.88, "sh": 7.32, "em": 7.4, "el": 7.05, "eh": 7.78},
    {"t": 0, "sm": 6.95, "sl": 6.73, "sh": 7.17, "em": 7.05, "el": 6.7, "eh": 7.43},
    {"t": 5, "sm": 7.4, "sl": 7.18, "sh": 7.62, "em": 7.6, "el": 7.25, "eh": 7.98},
    {"t": 10, "sm": 8.1, "sl": 7.85, "sh": 8.35, "em": 8.6, "el": 8.2, "eh": 9.0},
    {"t": 15, "sm": 8.7, "sl": 8.45, "sh": 8.95, "em": 9.4, "el": 8.95, "eh": 9.85},
    {"t": 20, "sm": 8.8, "sl": 8.55, "sh": 9.05, "em": 9.65, "el": 9.2, "eh": 10.1},
    {"t": 25, "sm": 8.6, "sl": 8.35, "sh": 8.85, "em": 9.5, "el": 9.05, "eh": 9.95},
    {"t": 30, "sm": 8.3, "sl": 8.05, "sh": 8.55, "em": 9.15, "el": 8.75, "eh": 9.55},
    {"t": 35, "sm": 8.1, "sl": 7.85, "sh": 8.35, "em": 8.85, "el": 8.5, "eh": 9.25},
    {"t": 40, "sm": 7.9, "sl": 7.65, "sh": 8.15, "em": 8.6, "el": 8.25, "eh": 9.0},
    {"t": 45, "sm": 7.8, "sl": 7.55, "sh": 8.05, "em": 8.45, "el": 8.1, "eh": 8.85},
    {"t": 50, "sm": 7.95, "sl": 7.7, "sh": 8.2, "em": 8.45, "el": 8.1, "eh": 8.85},
    {"t": 55, "sm": 8.0, "sl": 7.75, "sh": 8.25, "em": 8.5, "el": 8.15, "eh": 8.9},
    {"t": 60, "sm": 8.05, "sl": 7.8, "sh": 8.3, "em": 8.55, "el": 8.2, "eh": 8.95},
    {"t": 65, "sm": 8.0, "sl": 7.75, "sh": 8.25, "em": 8.4, "el": 8.05, "eh": 8.8},
    {"t": 70, "sm": 7.9, "sl": 7.65, "sh": 8.15, "em": 8.3, "el": 7.95, "eh": 8.7},
    {"t": 75, "sm": 7.85, "sl": 7.6, "sh": 8.1, "em": 8.25, "el": 7.9, "eh": 8.65},
    {"t": 80, "sm": 7.8, "sl": 7.55, "sh": 8.05, "em": 8.25, "el": 7.9, "eh": 8.65},
    {"t": 85, "sm": 7.75, "sl": 7.5, "sh": 8.0, "em": 8.15, "el": 7.8, "eh": 8.55},
    {"t": 90, "sm": 7.65, "sl": 7.4, "sh": 7.9, "em": 8.1, "el": 7.75, "eh": 8.5},
    {"t": 95, "sm": 7.55, "sl": 7.3, "sh": 7.8, "em": 8.0, "el": 7.65, "eh": 8.4},
    {"t": 100, "sm": 7.45, "sl": 7.2, "sh": 7.7, "em": 7.9, "el": 7.55, "eh": 8.3},
    {"t": 105, "sm": 7.35, "sl": 7.1, "sh": 7.6, "em": 7.75, "el": 7.4, "eh": 8.15},
    {"t": 110, "sm": 7.25, "sl": 7.0, "sh": 7.5, "em": 7.55, "el": 7.2, "eh": 7.95},
    {"t": 115, "sm": 7.2, "sl": 6.95, "sh": 7.45, "em": 7.45, "el": 7.1, "eh": 7.85},
    {"t": 120, "sm": 7.1, "sl": 6.85, "sh": 7.35, "em": 7.3, "el": 6.95, "eh": 7.7}
   ]},
   "layer": [
    {"mark": {"type": "area", "opacity": 0.5}, "encoding": {"x": {"field": "t", "type": "quantitative", "scale": {"domain": [-25, 120], "nice": false, "zero": false}, "axis": {"values": [0, 30, 60, 90, 120], "tickCount": 20, "format": "d", "title": "Time (min)", "titleFontSize": 9.5, "titlePadding": 1}}, "y": {"field": "el", "type": "quantitative", "scale": {"domain": [4, 16], "zero": false, "nice": false}, "axis": {"values": [4, 8, 12, 16], "tickCount": 20, "format": "d", "title": "Blood glucose (mmol/L)", "titleFontSize": 9.5}}, "y2": {"field": "eh"}, "fill": {"datum": "Ex9", "scale": {"domain": ["Saline", "Ex9"], "range": ["#a8a8a8", "#b0a8f5"]}, "legend": null}}},
    {"mark": {"type": "area", "opacity": 0.5}, "encoding": {"x": {"field": "t", "type": "quantitative"}, "y": {"field": "sl", "type": "quantitative"}, "y2": {"field": "sh"}, "fill": {"datum": "Saline"}}},
    {"data": {"values": [{"y": 7.1}]}, "mark": {"type": "rule", "color": "#555", "strokeDash": [1.5, 1.5], "strokeWidth": 0.9}, "encoding": {"y": {"field": "y", "type": "quantitative"}}},
    {"mark": {"type": "line", "strokeWidth": 0.8}, "encoding": {"x": {"field": "t", "type": "quantitative"}, "y": {"field": "el", "type": "quantitative"}, "color": {"datum": "Ex9", "scale": {"domain": ["Saline", "Ex9"], "range": ["#666666", "#5546e0"]}, "legend": null}}},
    {"mark": {"type": "line", "strokeWidth": 0.8}, "encoding": {"x": {"field": "t", "type": "quantitative"}, "y": {"field": "eh", "type": "quantitative"}, "color": {"datum": "Ex9"}}},
    {"mark": {"type": "line", "strokeWidth": 0.8}, "encoding": {"x": {"field": "t", "type": "quantitative"}, "y": {"field": "sl", "type": "quantitative"}, "color": {"datum": "Saline"}}},
    {"mark": {"type": "line", "strokeWidth": 0.8}, "encoding": {"x": {"field": "t", "type": "quantitative"}, "y": {"field": "sh", "type": "quantitative"}, "color": {"datum": "Saline"}}},
    {"transform": [{"fold": ["sm", "em"], "as": ["g", "m"]}], "mark": {"type": "line", "strokeWidth": 1.3}, "encoding": {"x": {"field": "t", "type": "quantitative"}, "y": {"field": "m", "type": "quantitative"}, "stroke": {"field": "g", "type": "nominal", "scale": {"domain": ["sm", "em"], "range": ["#333333", "#2a1faa"]}, "legend": {"title": null, "orient": "top-right", "symbolType": "stroke", "symbolStrokeWidth": 1.5, "symbolSize": 120, "labelFontSize": 8, "rowPadding": 4, "offset": 3, "padding": 0, "labelExpr": "datum.value == 'sm' ? 'Saline' : 'Ex9'"}}}},
    {"data": {"values": [{"n": "Sham (OGTT)"}]}, "mark": {"type": "text", "align": "center", "baseline": "middle", "fontSize": 9}, "encoding": {"x": {"datum": 47.5}, "y": {"datum": 18.27}, "text": {"field": "n"}}}
   ]
  },
  {
   "width": 133, "height": 90,
   "title": {"text": "H"},
   "data": {"values": [
    {"t": -20, "sm": 7.5, "sl": 7.15, "sh": 7.85, "em": 7.9, "el": 7.6, "eh": 8.2},
    {"t": -15, "sm": 7.6, "sl": 7.25, "sh": 7.95, "em": 8.0, "el": 7.7, "eh": 8.3},
    {"t": -10, "sm": 7.65, "sl": 7.3, "sh": 8.0, "em": 8.05, "el": 7.75, "eh": 8.35},
    {"t": -5, "sm": 7.7, "sl": 7.35, "sh": 8.05, "em": 8.1, "el": 7.8, "eh": 8.4},
    {"t": 0, "sm": 7.75, "sl": 7.4, "sh": 8.1, "em": 8.1, "el": 7.8, "eh": 8.4},
    {"t": 5, "sm": 8.6, "sl": 8.1, "sh": 9.1, "em": 8.8, "el": 8.3, "eh": 9.3},
    {"t": 10, "sm": 10.2, "sl": 9.6, "sh": 10.8, "em": 10.6, "el": 9.8, "eh": 11.4},
    {"t": 15, "sm": 11.3, "sl": 10.6, "sh": 12.0, "em": 12.0, "el": 11.1, "eh": 13.0},
    {"t": 20, "sm": 11.7, "sl": 10.95, "sh": 12.45, "em": 12.8, "el": 11.9, "eh": 13.8},
    {"t": 25, "sm": 11.6, "sl": 10.85, "sh": 12.35, "em": 12.9, "el": 12.0, "eh": 13.9},
    {"t": 30, "sm": 10.8, "sl": 10.1, "sh": 11.5, "em": 12.3, "el": 11.4, "eh": 13.2},
    {"t": 35, "sm": 9.6, "sl": 9.0, "sh": 10.2, "em": 11.2, "el": 10.4, "eh": 12.0},
    {"t": 40, "sm": 8.4, "sl": 7.9, "sh": 8.9, "em": 10.1, "el": 9.5, "eh": 10.7},
    {"t": 45, "sm": 7.4, "sl": 7.0, "sh": 7.8, "em": 9.3, "el": 8.8, "eh": 9.8},
    {"t": 50, "sm": 6.9, "sl": 6.65, "sh": 7.15, "em": 8.8, "el": 8.4, "eh": 9.2},
    {"t": 55, "sm": 6.8, "sl": 6.55, "sh": 7.05, "em": 8.6, "el": 8.25, "eh": 8.95},
    {"t": 60, "sm": 6.95, "sl": 6.65, "sh": 7.25, "em": 8.5, "el": 8.2, "eh": 8.8},
    {"t": 65, "sm": 7.05, "sl": 6.75, "sh": 7.35, "em": 8.45, "el": 8.15, "eh": 8.75},
    {"t": 70, "sm": 7.15, "sl": 6.85, "sh": 7.45, "em": 8.4, "el": 8.1, "eh": 8.7},
    {"t": 75, "sm": 7.2, "sl": 6.9, "sh": 7.5, "em": 8.35, "el": 8.05, "eh": 8.65},
    {"t": 80, "sm": 7.25, "sl": 6.95, "sh": 7.55, "em": 8.3, "el": 8.0, "eh": 8.6},
    {"t": 85, "sm": 7.3, "sl": 7.0, "sh": 7.6, "em": 8.2, "el": 7.9, "eh": 8.5},
    {"t": 90, "sm": 7.35, "sl": 7.05, "sh": 7.65, "em": 8.15, "el": 7.85, "eh": 8.45},
    {"t": 95, "sm": 7.3, "sl": 7.0, "sh": 7.6, "em": 8.1, "el": 7.8, "eh": 8.4},
    {"t": 100, "sm": 7.3, "sl": 7.0, "sh": 7.6, "em": 8.05, "el": 7.75, "eh": 8.35},
    {"t": 105, "sm": 7.3, "sl": 7.0, "sh": 7.6, "em": 8.0, "el": 7.7, "eh": 8.3},
    {"t": 110, "sm": 7.25, "sl": 6.95, "sh": 7.55, "em": 7.95, "el": 7.65, "eh": 8.25},
    {"t": 115, "sm": 7.3, "sl": 7.0, "sh": 7.6, "em": 7.9, "el": 7.6, "eh": 8.2},
    {"t": 120, "sm": 7.25, "sl": 6.95, "sh": 7.55, "em": 7.9, "el": 7.6, "eh": 8.2}
   ]},
   "layer": [
    {"mark": {"type": "area", "opacity": 0.55}, "encoding": {"x": {"field": "t", "type": "quantitative", "scale": {"domain": [-25, 120], "nice": false, "zero": false}, "axis": {"values": [0, 30, 60, 90, 120], "tickCount": 20, "format": "d", "title": "Time (min)", "titleFontSize": 9.5, "titlePadding": 1}}, "y": {"field": "el", "type": "quantitative", "scale": {"domain": [4, 16], "zero": false, "nice": false}, "axis": {"values": [4, 8, 12, 16], "tickCount": 20, "format": "d", "title": "Blood glucose (mmol/L)", "titleFontSize": 9.5}}, "y2": {"field": "eh"}, "fill": {"datum": "Ex9", "scale": {"domain": ["Saline", "Ex9"], "range": ["#f5c674", "#9ee870"]}, "legend": null}}},
    {"mark": {"type": "area", "opacity": 0.55}, "encoding": {"x": {"field": "t", "type": "quantitative"}, "y": {"field": "sl", "type": "quantitative"}, "y2": {"field": "sh"}, "fill": {"datum": "Saline"}}},
    {"data": {"values": [{"y": 7.73}]}, "mark": {"type": "rule", "color": "#555", "strokeDash": [1.5, 1.5], "strokeWidth": 0.9}, "encoding": {"y": {"field": "y", "type": "quantitative"}}},
    {"mark": {"type": "line", "strokeWidth": 0.8}, "encoding": {"x": {"field": "t", "type": "quantitative"}, "y": {"field": "el", "type": "quantitative"}, "color": {"datum": "Ex9", "scale": {"domain": ["Saline", "Ex9"], "range": ["#eaa040", "#5cb030"]}, "legend": null}}},
    {"mark": {"type": "line", "strokeWidth": 0.8}, "encoding": {"x": {"field": "t", "type": "quantitative"}, "y": {"field": "eh", "type": "quantitative"}, "color": {"datum": "Ex9"}}},
    {"mark": {"type": "line", "strokeWidth": 0.8}, "encoding": {"x": {"field": "t", "type": "quantitative"}, "y": {"field": "sl", "type": "quantitative"}, "color": {"datum": "Saline"}}},
    {"mark": {"type": "line", "strokeWidth": 0.8}, "encoding": {"x": {"field": "t", "type": "quantitative"}, "y": {"field": "sh", "type": "quantitative"}, "color": {"datum": "Saline"}}},
    {"transform": [{"fold": ["sm", "em"], "as": ["g", "m"]}], "mark": {"type": "line", "strokeWidth": 1.3}, "encoding": {"x": {"field": "t", "type": "quantitative"}, "y": {"field": "m", "type": "quantitative"}, "stroke": {"field": "g", "type": "nominal", "scale": {"domain": ["sm", "em"], "range": ["#e8671e", "#2e6e1a"]}, "legend": {"title": null, "orient": "top-right", "symbolType": "stroke", "symbolStrokeWidth": 1.5, "symbolSize": 120, "labelFontSize": 8, "rowPadding": 4, "offset": 3, "padding": 0, "labelExpr": "datum.value == 'sm' ? 'Saline' : 'Ex9'"}}}},
    {"data": {"values": [{"n": "VSG (OGTT)"}]}, "mark": {"type": "text", "align": "center", "baseline": "middle", "fontSize": 9}, "encoding": {"x": {"datum": 47.5}, "y": {"datum": 18.17}, "text": {"field": "n"}}}
   ]
  },
  {
   "width": 94, "height": 97,
   "title": {"text": "I"},
   "data": {"values": [
    {"s": "S1", "grp": "Sham", "k": 1, "v": 9.2}, {"s": "S1", "grp": "Sham", "k": 3, "v": 9.1}, {"s": "S1", "grp": "Sham", "k": 5, "v": 9.2}, {"s": "S1", "grp": "Sham", "k": 2, "v": 8.75}, {"s": "S1", "grp": "Sham", "k": 4, "v": 8.85},
    {"s": "S2", "grp": "Sham", "k": 2, "v": 10.85}, {"s": "S2", "grp": "Sham", "k": 4, "v": 10.55}, {"s": "S2", "grp": "Sham", "k": 3, "v": 10.1}, {"s": "S2", "grp": "Sham", "k": 1, "v": 9.85}, {"s": "S2", "grp": "Sham", "k": 5, "v": 9.8},
    {"s": "V1", "grp": "VSG", "k": 2, "v": 13.8}, {"s": "V1", "grp": "VSG", "k": 5, "v": 13.5}, {"s": "V1", "grp": "VSG", "k": 3, "v": 12.0}, {"s": "V1", "grp": "VSG", "k": 5, "v": 11.3}, {"s": "V1", "grp": "VSG", "k": 1, "v": 9.55},
    {"s": "V2", "grp": "VSG", "k": 3, "v": 16.2}, {"s": "V2", "grp": "VSG", "k": 3, "v": 14.75}, {"s": "V2", "grp": "VSG", "k": 3, "v": 13.45}, {"s": "V2", "grp": "VSG", "k": 1, "v": 11.2}, {"s": "V2", "grp": "VSG", "k": 5, "v": 11.4}
   ]},
   "layer": [
    {"mark": {"type": "bar", "fill": "white", "strokeWidth": 1.3, "width": {"band": 1.35}},
     "encoding": {"x": {"field": "s", "type": "nominal", "scale": {"domain": ["S1", "Sm", "S2", "g1", "g2", "V1", "Vm", "V2"], "paddingInner": 0, "paddingOuter": 0.51, "align": 0.92}, "axis": {"values": ["S1", "S2", "V1", "V2"], "tickCount": 20, "labelExpr": "datum.value == 'S1' || datum.value == 'V1' ? 'Saline' : 'Ex9'", "title": null, "labelAngle": 0, "labelFontSize": 8}}, "y": {"aggregate": "mean", "field": "v", "type": "quantitative", "title": "Blood glucose (mmol/L)", "scale": {"domain": [5, 20], "zero": false, "nice": false}, "axis": {"values": [5, 10, 15, 20], "tickCount": 20, "format": "d", "titleFontSize": 10.5}}, "y2": {"datum": 5}, "stroke": {"field": "s", "type": "nominal", "scale": {"domain": ["S1", "S2", "V1", "V2"], "range": ["#9a90ea", "#6a5dd8", "#a9d38f", "#98c97c"]}, "legend": null}}},
    {"mark": {"type": "errorbar", "extent": "stderr", "ticks": true, "thickness": 1.2},
     "encoding": {"x": {"field": "s", "type": "nominal"}, "y": {"field": "v", "type": "quantitative", "title": "Blood glucose (mmol/L)"}, "color": {"field": "grp", "type": "nominal", "scale": {"domain": ["Sham", "VSG"], "range": ["#4b3fd0", "#5c9e3c"]}, "legend": null}}},
    {"mark": {"type": "point", "filled": true, "size": 22, "opacity": 1},
     "encoding": {"x": {"field": "s", "type": "nominal"}, "xOffset": {"field": "k", "type": "nominal", "scale": {"type": "point", "domain": [1, 2, 3, 4, 5], "padding": 0.2}}, "y": {"field": "v", "type": "quantitative", "title": "Blood glucose (mmol/L)"}, "shape": {"field": "grp", "type": "nominal", "scale": {"domain": ["Sham", "VSG"], "range": ["circle", "square"]}, "legend": null}, "fill": {"field": "grp", "type": "nominal", "scale": {"domain": ["Sham", "VSG"], "range": ["#6b5ef5", "#2e7d1f"]}, "legend": null}}},
    {"data": {"values": [
      {"b": 1, "o": 1, "s": "S1", "y": 11.8}, {"b": 1, "o": 2, "s": "S1", "y": 12.2}, {"b": 1, "o": 3, "s": "S2", "y": 12.2}, {"b": 1, "o": 4, "s": "S2", "y": 11.8},
      {"b": 2, "o": 1, "s": "V1", "y": 16.3}, {"b": 2, "o": 2, "s": "V1", "y": 16.7}, {"b": 2, "o": 3, "s": "V2", "y": 16.7}, {"b": 2, "o": 4, "s": "V2", "y": 16.3},
      {"b": 3, "o": 1, "s": "Sm", "y": 12.2}, {"b": 3, "o": 2, "s": "Sm", "y": 18.1}, {"b": 3, "o": 3, "s": "Vm", "y": 18.1}, {"b": 3, "o": 4, "s": "Vm", "y": 16.7}]},
     "mark": {"type": "line", "color": "#555", "strokeWidth": 1},
     "encoding": {"x": {"field": "s", "type": "nominal", "bandPosition": 0.5}, "y": {"field": "y", "type": "quantitative", "title": "Blood glucose (mmol/L)"}, "detail": {"field": "b"}, "order": {"field": "o", "type": "quantitative"}}},
    {"data": {"values": [{"n": "P=0.0002"}]}, "mark": {"type": "text", "align": "center", "baseline": "middle", "fontSize": 9}, "encoding": {"x": {"datum": "g1", "type": "nominal", "bandPosition": 1}, "y": {"datum": 19.1}, "text": {"field": "n"}}},
    {"data": {"values": [{"n": "Peak BG (OGTT)"}]}, "mark": {"type": "text", "align": "center", "baseline": "middle", "fontSize": 11}, "encoding": {"x": {"datum": "g1", "type": "nominal", "bandPosition": 1}, "y": {"datum": 22.7}, "text": {"field": "n"}}}
   ]
  }
  ]
 },
 {
  "width": 98, "height": 100,
  "title": {"text": "J"},
  "data": {"values": [
   {"s": "S1", "grp": "Sham", "k": 3, "v": 8.05}, {"s": "S1", "grp": "Sham", "k": 3, "v": 7.65}, {"s": "S1", "grp": "Sham", "k": 1, "v": 7.2}, {"s": "S1", "grp": "Sham", "k": 5, "v": 7.15}, {"s": "S1", "grp": "Sham", "k": 3, "v": 6.0},
   {"s": "S2", "grp": "Sham", "k": 3, "v": 8.6}, {"s": "S2", "grp": "Sham", "k": 3, "v": 7.8}, {"s": "S2", "grp": "Sham", "k": 5, "v": 7.35}, {"s": "S2", "grp": "Sham", "k": 1, "v": 7.25}, {"s": "S2", "grp": "Sham", "k": 4, "v": 7.1},
   {"s": "V1", "grp": "VSG", "k": 2, "v": 6.9}, {"s": "V1", "grp": "VSG", "k": 1, "v": 6.75}, {"s": "V1", "grp": "VSG", "k": 5, "v": 6.7}, {"s": "V1", "grp": "VSG", "k": 4, "v": 6.45}, {"s": "V1", "grp": "VSG", "k": 1, "v": 6.05},
   {"s": "V2", "grp": "VSG", "k": 3, "v": 8.8}, {"s": "V2", "grp": "VSG", "k": 5, "v": 7.7}, {"s": "V2", "grp": "VSG", "k": 1, "v": 7.55}, {"s": "V2", "grp": "VSG", "k": 5, "v": 7.45}, {"s": "V2", "grp": "VSG", "k": 3, "v": 6.9}
  ]},
  "layer": [
   {"mark": {"type": "bar", "fill": "white", "strokeWidth": 1.3, "width": {"band": 1.35}},
    "encoding": {"x": {"field": "s", "type": "nominal", "scale": {"domain": ["S1", "Sm", "S2", "g1", "g2", "V1", "Vm", "V2"], "paddingInner": 0, "paddingOuter": 0.75, "align": 0.5}, "axis": {"values": ["S1", "S2", "V1", "V2"], "tickCount": 20, "labelExpr": "datum.value == 'S1' || datum.value == 'V1' ? 'Saline' : 'Ex9'", "title": null, "labelAngle": 0, "labelFontSize": 8}}, "y": {"aggregate": "mean", "field": "v", "type": "quantitative", "title": "Blood glucose (mmol/L)", "scale": {"domain": [5, 10], "zero": false, "nice": false}, "axis": {"values": [5, 6, 7, 8, 9, 10], "tickCount": 20, "format": "d", "titleFontSize": 10.5}}, "y2": {"datum": 5}, "stroke": {"field": "s", "type": "nominal", "scale": {"domain": ["S1", "S2", "V1", "V2"], "range": ["#9a90ea", "#6a5dd8", "#a9d38f", "#98c97c"]}, "legend": null}}},
   {"mark": {"type": "errorbar", "extent": "stderr", "ticks": true, "thickness": 1.2},
    "encoding": {"x": {"field": "s", "type": "nominal"}, "y": {"field": "v", "type": "quantitative", "title": "Blood glucose (mmol/L)"}, "color": {"field": "grp", "type": "nominal", "scale": {"domain": ["Sham", "VSG"], "range": ["#4b3fd0", "#5c9e3c"]}, "legend": null}}},
   {"mark": {"type": "point", "filled": true, "size": 22, "opacity": 1},
    "encoding": {"x": {"field": "s", "type": "nominal"}, "xOffset": {"field": "k", "type": "nominal", "scale": {"type": "point", "domain": [1, 2, 3, 4, 5], "padding": 0.2}}, "y": {"field": "v", "type": "quantitative", "title": "Blood glucose (mmol/L)"}, "shape": {"field": "grp", "type": "nominal", "scale": {"domain": ["Sham", "VSG"], "range": ["circle", "square"]}, "legend": null}, "fill": {"field": "grp", "type": "nominal", "scale": {"domain": ["Sham", "VSG"], "range": ["#6b5ef5", "#2e7d1f"]}, "legend": null}}},
   {"data": {"values": [
     {"b": 1, "o": 1, "s": "S1", "y": 8.7}, {"b": 1, "o": 2, "s": "S1", "y": 8.8}, {"b": 1, "o": 3, "s": "S2", "y": 8.8}, {"b": 1, "o": 4, "s": "S2", "y": 8.7},
     {"b": 2, "o": 1, "s": "V1", "y": 9.05}, {"b": 2, "o": 2, "s": "V1", "y": 9.15}, {"b": 2, "o": 3, "s": "V2", "y": 9.15}, {"b": 2, "o": 4, "s": "V2", "y": 9.05}]},
    "mark": {"type": "line", "color": "#555", "strokeWidth": 1},
    "encoding": {"x": {"field": "s", "type": "nominal", "bandPosition": 0.5}, "y": {"field": "y", "type": "quantitative", "title": "Blood glucose (mmol/L)"}, "detail": {"field": "b"}, "order": {"field": "o", "type": "quantitative"}}},
   {"data": {"values": [{"n": "P=0.0118"}]}, "mark": {"type": "text", "align": "center", "baseline": "middle", "fontSize": 9}, "encoding": {"x": {"datum": "g1", "type": "nominal", "bandPosition": 1}, "y": {"datum": 9.8}, "text": {"field": "n"}}},
   {"data": {"values": [{"n": "OGTT-Glucose nadir"}]}, "mark": {"type": "text", "align": "center", "baseline": "middle", "fontSize": 10.5}, "encoding": {"x": {"datum": "g1", "type": "nominal", "bandPosition": 1}, "y": {"datum": 10.78}, "text": {"field": "n"}}}
  ]
 }
 ]
},
{
 "spacing": 80,
 "resolve": {"scale": {"color": "independent", "stroke": "independent", "fill": "independent", "shape": "independent", "size": "independent", "xOffset": "independent"}, "legend": {"color": "independent", "stroke": "independent", "fill": "independent", "shape": "independent", "size": "independent"}},
 "hconcat": [
 {
  "width": 67, "height": 94,
  "title": {"text": "K"},
  "data": {"values": [
   {"s": "Sham", "grp": "Sham", "k": 3, "v": 220}, {"s": "Sham", "grp": "Sham", "k": 1, "v": 95}, {"s": "Sham", "grp": "Sham", "k": 5, "v": 90}, {"s": "Sham", "grp": "Sham", "k": 2, "v": 12}, {"s": "Sham", "grp": "Sham", "k": 4, "v": 5},
   {"s": "VSG", "grp": "VSG", "k": 3, "v": 925}, {"s": "VSG", "grp": "VSG", "k": 3, "v": 670}, {"s": "VSG", "grp": "VSG", "k": 3, "v": 465}, {"s": "VSG", "grp": "VSG", "k": 1, "v": 50}, {"s": "VSG", "grp": "VSG", "k": 5, "v": 78}
  ]},
  "layer": [
   {"mark": {"type": "bar", "fill": "white", "strokeWidth": 1.3, "width": {"band": 0.73}},
    "encoding": {"x": {"field": "s", "type": "nominal", "scale": {"domain": ["Sham", "VSG"], "paddingInner": 0, "paddingOuter": 0.22, "align": 0.65}, "axis": {"title": null, "labelAngle": 0, "labelFontSize": 9}}, "y": {"aggregate": "mean", "field": "v", "type": "quantitative", "title": "Plasma glucagon (pg/mL)", "scale": {"domain": [0, 1000], "nice": false}, "axis": {"values": [0, 200, 400, 600, 800, 1000], "tickCount": 20, "format": "d", "labelFontSize": 6.5, "titleFontSize": 9.5, "titlePadding": 0.5}}, "stroke": {"field": "s", "type": "nominal", "scale": {"domain": ["Sham", "VSG"], "range": ["#7a6ee0", "#a5d08a"]}, "legend": null}}},
   {"mark": {"type": "errorbar", "extent": "stderr", "ticks": true, "thickness": 1.2},
    "encoding": {"x": {"field": "s", "type": "nominal"}, "y": {"field": "v", "type": "quantitative", "title": "Plasma glucagon (pg/mL)"}, "color": {"field": "grp", "type": "nominal", "scale": {"domain": ["Sham", "VSG"], "range": ["#5a4ed8", "#8cc474"]}, "legend": null}}},
   {"mark": {"type": "point", "filled": true, "size": 22, "opacity": 1},
    "encoding": {"x": {"field": "s", "type": "nominal"}, "xOffset": {"field": "k", "type": "nominal", "scale": {"type": "point", "domain": [1, 2, 3, 4, 5], "padding": 0.8}}, "y": {"field": "v", "type": "quantitative", "title": "Plasma glucagon (pg/mL)"}, "shape": {"field": "grp", "type": "nominal", "scale": {"domain": ["Sham", "VSG"], "range": ["circle", "square"]}, "legend": null}, "fill": {"field": "grp", "type": "nominal", "scale": {"domain": ["Sham", "VSG"], "range": ["#6b5ef5", "#2e7d1f"]}, "legend": null}}},
   {"data": {"values": [{"b": 1, "o": 1, "s": "Sham", "y": 960}, {"b": 1, "o": 2, "s": "Sham", "y": 990}, {"b": 1, "o": 3, "s": "VSG", "y": 990}, {"b": 1, "o": 4, "s": "VSG", "y": 960}]},
    "mark": {"type": "line", "color": "#555", "strokeWidth": 1},
    "encoding": {"x": {"field": "s", "type": "nominal", "bandPosition": 0.5}, "y": {"field": "y", "type": "quantitative", "title": "Plasma glucagon (pg/mL)"}, "detail": {"field": "b"}, "order": {"field": "o", "type": "quantitative"}}},
   {"data": {"values": [{"n": "*"}]}, "mark": {"type": "text", "align": "center", "baseline": "middle", "fontSize": 11}, "encoding": {"x": {"datum": "Sham", "type": "nominal", "bandPosition": 1}, "y": {"datum": 1035}, "text": {"field": "n"}}},
   {"data": {"values": [{"n": "Ex9-Liquid meal"}]}, "mark": {"type": "text", "align": "center", "baseline": "middle", "fontSize": 10}, "encoding": {"x": {"datum": "Sham", "type": "nominal", "bandPosition": 1}, "y": {"datum": 1150}, "text": {"field": "n"}}}
  ]
 },
 {
  "width": 63, "height": 92,
  "title": {"text": "L"},
  "data": {"values": [
   {"s": "Sham", "grp": "Sham", "k": 1, "v": 10.3}, {"s": "Sham", "grp": "Sham", "k": 5, "v": 10.0}, {"s": "Sham", "grp": "Sham", "k": 3, "v": 8.4}, {"s": "Sham", "grp": "Sham", "k": 3, "v": 7.3}, {"s": "Sham", "grp": "Sham", "k": 3, "v": 1.0},
   {"s": "VSG", "grp": "VSG", "k": 3, "v": 18.1}, {"s": "VSG", "grp": "VSG", "k": 3, "v": 7.0}, {"s": "VSG", "grp": "VSG", "k": 1, "v": 4.0}, {"s": "VSG", "grp": "VSG", "k": 5, "v": 3.7}, {"s": "VSG", "grp": "VSG", "k": 3, "v": 2.8}
  ]},
  "layer": [
   {"mark": {"type": "bar", "fill": "white", "strokeWidth": 1.3, "width": {"band": 0.68}},
    "encoding": {"x": {"field": "s", "type": "nominal", "scale": {"domain": ["Sham", "VSG"], "paddingInner": 0, "paddingOuter": 0.125, "align": 0.57}, "axis": {"title": null, "labelAngle": 0, "labelFontSize": 9}}, "y": {"aggregate": "mean", "field": "v", "type": "quantitative", "title": "Plasma insulin (ng/mL)", "scale": {"domain": [0, 20], "nice": false}, "axis": {"values": [0, 5, 10, 15, 20], "tickCount": 20, "format": "d", "labelFontSize": 7.5, "titleFontSize": 9.5}}, "stroke": {"field": "s", "type": "nominal", "scale": {"domain": ["Sham", "VSG"], "range": ["#6a5cd6", "#8cc474"]}, "legend": null}}},
   {"mark": {"type": "errorbar", "extent": "stderr", "ticks": true, "thickness": 1.5},
    "encoding": {"x": {"field": "s", "type": "nominal"}, "y": {"field": "v", "type": "quantitative", "title": "Plasma insulin (ng/mL)"}, "color": {"field": "grp", "type": "nominal", "scale": {"domain": ["Sham", "VSG"], "range": ["#3c2fd0", "#3a8a20"]}, "legend": null}}},
   {"mark": {"type": "point", "filled": true, "size": 22, "opacity": 1},
    "encoding": {"x": {"field": "s", "type": "nominal"}, "xOffset": {"field": "k", "type": "nominal", "scale": {"type": "point", "domain": [1, 2, 3, 4, 5], "padding": 0.8}}, "y": {"field": "v", "type": "quantitative", "title": "Plasma insulin (ng/mL)"}, "shape": {"field": "grp", "type": "nominal", "scale": {"domain": ["Sham", "VSG"], "range": ["circle", "square"]}, "legend": null}, "fill": {"field": "grp", "type": "nominal", "scale": {"domain": ["Sham", "VSG"], "range": ["#6b5ef5", "#2e7d1f"]}, "legend": null}}},
   {"data": {"values": [{"n": "Ex9-Liquid meal"}]}, "mark": {"type": "text", "align": "center", "baseline": "middle", "fontSize": 10}, "encoding": {"x": {"datum": "Sham", "type": "nominal", "bandPosition": 1}, "y": {"datum": 23.5}, "text": {"field": "n"}}}
  ]
 }
 ]
}
]
}
]
}
]
}
